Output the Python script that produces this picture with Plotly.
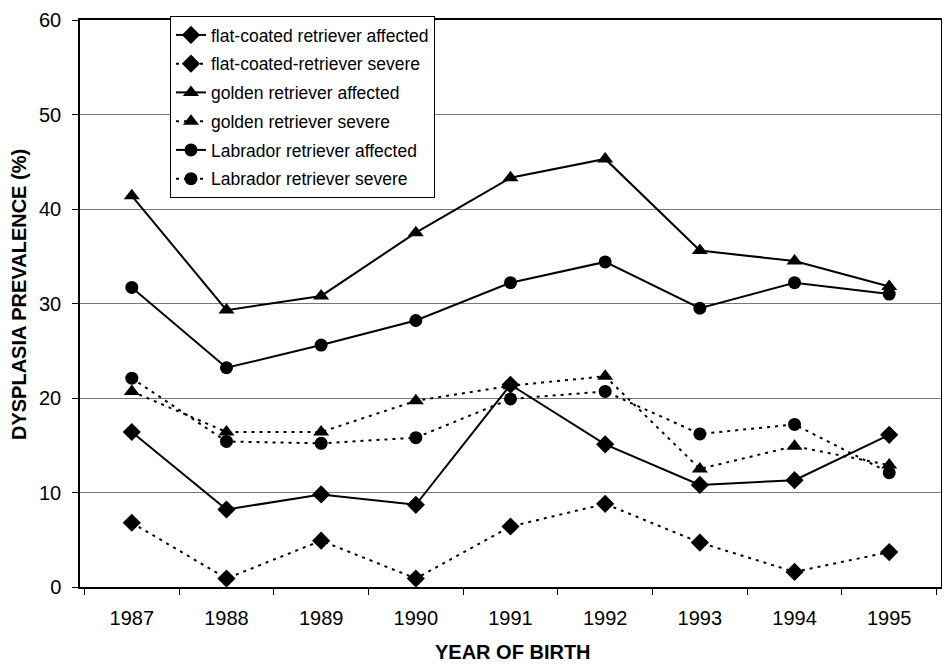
import plotly.graph_objects as go

years = ["1987", "1988", "1989", "1990", "1991", "1992", "1993", "1994", "1995"]

flat_affected = [16.4, 8.2, 9.8, 8.7, 21.4, 15.1, 10.8, 11.3, 16.1]
flat_severe = [6.8, 0.9, 4.9, 0.9, 6.4, 8.8, 4.7, 1.6, 3.7]
golden_affected = [41.4, 29.3, 30.8, 37.5, 43.3, 45.3, 35.6, 34.5, 31.8]
golden_severe = [20.7, 16.4, 16.4, 19.7, 21.3, 22.3, 12.5, 14.9, 12.9]
lab_affected = [31.7, 23.2, 25.6, 28.2, 32.2, 34.4, 29.5, 32.2, 31.0]
lab_severe = [22.1, 15.4, 15.2, 15.8, 19.9, 20.7, 16.2, 17.2, 12.1]

series = [
    ("flat-coated retriever affected", flat_affected, "diamond", "solid", 14),
    ("flat-coated-retriever severe", flat_severe, "diamond", "3px,5px", 14),
    ("golden retriever affected", golden_affected, "triangle-up", "solid", 14),
    ("golden retriever severe", golden_severe, "triangle-up", "3px,5px", 14),
    ("Labrador retriever affected", lab_affected, "circle", "solid", 13),
    ("Labrador retriever severe", lab_severe, "circle", "3px,5px", 13),
]

fig = go.Figure()
for i, (name, vals, sym, dash, size) in enumerate(series):
    fig.add_trace(go.Scatter(
        x=years, y=vals, name=name, mode="lines+markers",
        legendgroup=f"g{i}",
        line=dict(color="black", width=2, dash=dash),
        marker=dict(symbol=sym, size=size, color="black"),
    ))

font = "Liberation Sans, Arial, sans-serif"
# the page body adds an 8px margin; size the figure so it fits the window width
fig.update_layout(
    width=934, height=657,
    margin=dict(l=72, r=1, t=12, b=78, autoexpand=False),
    paper_bgcolor="white", plot_bgcolor="white",
    font=dict(family=font, size=20, color="black"),
    showlegend=True,
    legend=dict(
        x=0.1045, y=1.007, xanchor="left", yanchor="top",
        bgcolor="white", bordercolor="black", borderwidth=1,
        font=dict(family=font, size=17.5, color="black"),
        tracegroupgap=3,
    ),
    xaxis=dict(
        type="category", showline=True, linecolor="black", linewidth=1.5,
        mirror=True, ticks="outside", tickson="boundaries", ticklen=6,
        tickcolor="black", showgrid=False, ticklabelstandoff=12,
        tickfont=dict(family=font, size=20),
    ),
    yaxis=dict(
        range=[0, 60], dtick=10, showline=True, linecolor="black", linewidth=1.5,
        mirror=True, ticks="outside", ticklen=6, tickcolor="black",
        showgrid=True, gridcolor="#777777", gridwidth=1, zeroline=False,
        ticklabelstandoff=7, ticklabeloverflow="allow",
        tickfont=dict(family=font, size=20),
    ),
    annotations=[
        dict(text="<b>YEAR OF BIRTH</b>", xref="paper", yref="paper",
             x=0.503, y=-0.1146, xanchor="center", yanchor="middle",
             showarrow=False, font=dict(family=font, size=20)),
        dict(text="<b>DYSPLASIA PREVALENCE (%)</b>", xref="paper", yref="paper",
             x=-0.0708, y=0.515, xanchor="center", yanchor="middle", textangle=-90,
             showarrow=False, font=dict(family=font, size=20)),
    ],
)

fig.write_html("out.html", config={"displayModeBar": False})
